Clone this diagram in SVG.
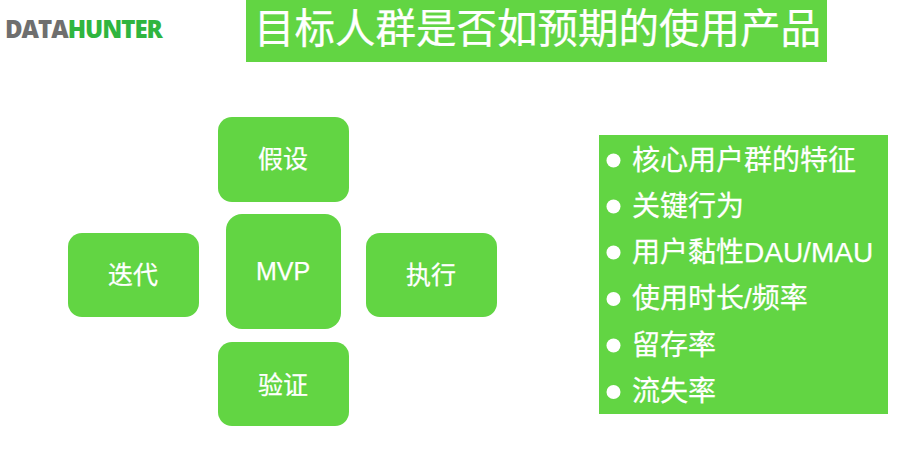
<svg xmlns="http://www.w3.org/2000/svg" width="909" height="458" viewBox="0 0 909 458">
<style>
.n{fill:#62d543}
.t{font-family:"Liberation Sans","Noto Sans CJK SC",sans-serif;fill:#fff;stroke:#fff;stroke-width:.25px}
.c{font-size:25px;text-anchor:middle}
.l{font-size:28px}
.d{fill:#fff}
</style>
<rect width="909" height="458" fill="#fff"/>
<g id="logo"><text x="5" y="38" font-family="'Open Sans','Liberation Sans',sans-serif" font-weight="800" font-size="24" letter-spacing="-1" fill="#6f6f6f">DATA<tspan fill="#2fb53f">HUNTER</tspan></text></g>
<g id="title"><rect class="n" x="246" y="0" width="581" height="62"/><text class="t" x="254" y="43" font-size="40.500">目标人群是否如预期的使用产品</text></g>
<g id="connectors"></g>
<g id="n-jiashe"><rect class="n" x="218" y="117" width="131" height="85" rx="14"/><text class="t c" x="283" y="168">假设</text></g>
<g id="n-mvp"><rect class="n" x="226" y="214" width="115" height="115" rx="16"/><text class="t c" x="283" y="280">MVP</text></g>
<g id="n-diedai"><rect class="n" x="68" y="233" width="131" height="84" rx="14"/><text class="t c" x="133" y="284">迭代</text></g>
<g id="n-zhixing"><rect class="n" x="366" y="233" width="131" height="84" rx="14"/><text class="t c" x="431" y="284">执行</text></g>
<g id="n-yanzheng"><rect class="n" x="218" y="342" width="131" height="84" rx="14"/><text class="t c" x="283" y="394">验证</text></g>
<g id="list"><rect class="n" x="599" y="135" width="289" height="279"/>
<circle class="d" cx="613.500" cy="160.500" r="7"/><text class="t l" x="632" y="170">核心用户群的特征</text>
<circle class="d" cx="613.500" cy="206.500" r="7"/><text class="t l" x="632" y="216">关键行为</text>
<circle class="d" cx="613.500" cy="252.500" r="7"/><text class="t l" x="632" y="262">用户黏性DAU/MAU</text>
<circle class="d" cx="613.500" cy="299" r="7"/><text class="t l" x="632" y="308">使用时长/频率</text>
<circle class="d" cx="613.500" cy="345.500" r="7"/><text class="t l" x="632" y="355">留存率</text>
<circle class="d" cx="613.500" cy="392" r="7"/><text class="t l" x="632" y="401">流失率</text>
</g>
</svg>
